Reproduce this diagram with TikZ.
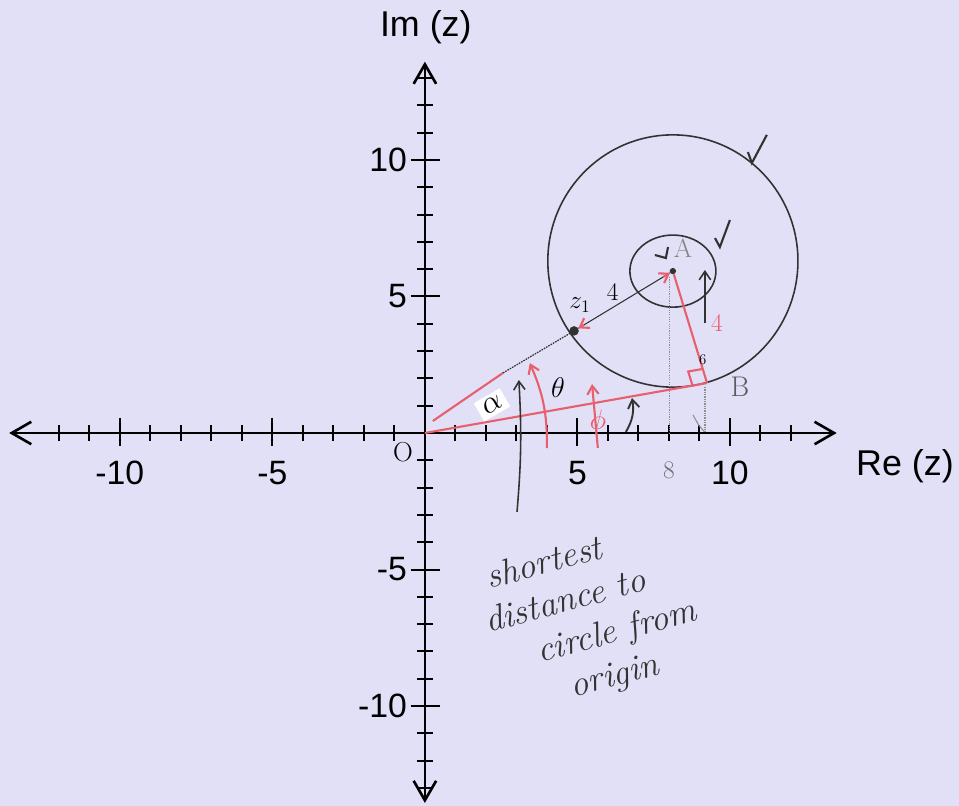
\RequirePackage{fix-cm}
\documentclass[tikz,border=0pt]{standalone}
\usepackage{fontspec}
\newfontfamily\axfont{Liberation Sans}
\usetikzlibrary{arrows.meta,calc,positioning}
\definecolor{paper}{RGB}{226,224,246}
\definecolor{pen}{RGB}{230,96,110}
\definecolor{pencil}{RGB}{50,50,50}

\begin{document}
\begin{tikzpicture}[x=1.0167cm,y=0.91cm,
  ax/.style={line width=2.5pt},
  tk/.style={line width=1.9pt},
  hand/.style={pencil, line width=1.5pt},
  redpen/.style={pen, line width=2pt},
  lab/.style={font=\axfont\fontsize{32}{34}\selectfont, inner sep=0pt},
  hw/.style={font=\fontsize{24}{26}\selectfont, inner sep=1pt},
  note/.style={font=\itshape\fontsize{34}{40}\selectfont, rotate=15, inner sep=0pt, pencil, align=center},
  dot/.style={circle, fill=pencil, inner sep=0pt, minimum size=#1},
  barb/.style={-{Straight Barb[length=2.8mm,width=3.8mm]}}]
\fill[paper] (-13.93,-13.66) rectangle (17.51,15.86);
\useasboundingbox (-13.93,-13.66) rectangle (17.51,15.86);
% axes
\coordinate (xl) at (-13.63,0);
\coordinate (xr) at (13.5,0);
\coordinate (yb) at (0,-13.55);
\coordinate (yt) at (0,13.6);
\draw[ax,{Straight Barb[length=6.5mm,width=7.5mm]}-{Straight Barb[length=6.5mm,width=7.5mm]}] (xl) -- (xr);
\draw[ax,{Straight Barb[length=6.5mm,width=7.5mm]}-{Straight Barb[length=6.5mm,width=7.5mm]}] (yb) -- (yt);
\foreach \i in {-12,...,-1,1,2,...,12} \draw[tk] (\i,0.28) -- (\i,-0.28);
\foreach \i in {-13,...,-1,1,2,...,13} \draw[tk] (-0.26,\i) -- (0.26,\i);
\foreach \i/\n in {-10/a,-5/b,5/c,10/d} {
  \draw[tk] (\i,0.55) -- (\i,-0.48);
  \draw[tk] (-0.47,\i) -- (0.49,\i);
  \node[lab] (xt\n) at (\i,-1.45) {\i};
  \node[lab, anchor=east] (yt\n) at (-0.58,\i) {\i};
}
\node[lab, font=\axfont\fontsize{34}{36}\selectfont] (im) at (0.03,14.87) {Im (z)};
\node[lab, font=\axfont\fontsize{34}{36}\selectfont] (re) at (15.74,-1.21) {Re (z)};
% points
\coordinate (O) at (0,0);
\coordinate (C) at (8.13,6.30);
\node[dot=6pt] (A) at (8.13,5.93) {};
\node[dot=9pt] (Z) at (4.89,3.74) {};
\coordinate (B) at (9.25,1.83);
\coordinate (R1) at (0.26,0.44);
\coordinate (R2) at (2.56,2.20);
% circles
\draw[hand] (C) ellipse [x radius=4.10, y radius=4.62];
\draw[hand] (A.center) ellipse [x radius=1.41, y radius=1.32];
% guide lines
\draw[pencil!55, densely dotted, line width=1.2pt] (8.03,5.71) -- (8.03,0);
\draw[pencil!55, densely dotted, line width=1.2pt] (9.18,1.68) -- (9.18,0);
\draw[pencil!55, line width=1pt] (8.79,0.66) -- (8.98,0.28) -- (9.16,0.05);
% red lines
\draw[redpen] (O) -- (B);
\draw[redpen] (R1) -- (R2);
\draw[hand, densely dotted, line width=1.2pt] (R2) -- (Z);
\draw[hand, line width=1pt] (Z) -- (A);
\draw[redpen, barb] ($(Z)!0.1!(A)$) -- (Z);
\draw[redpen, barb] ($(A)!0.1!(Z)$) -- (A);
\draw[redpen] (A) -- (B);
\coordinate (ba) at ($(B)!14pt!(A)$);
\coordinate (bo) at ($(B)!14pt!(O)$);
\draw[redpen] (ba) -- ($(ba)+(bo)-(B)$) -- (bo);
% angles
\draw[redpen, barb] (4.00,-0.55) to[bend right=12] (3.44,2.56);
\draw[redpen, barb] (5.67,-0.55) -- (5.48,1.79);
\draw[hand, line width=1.8pt, barb] (6.59,0.04) to[bend right=20] (6.79,1.28);
\draw[hand, line width=1.5pt, barb] (3.02,-2.89) to[bend right=4] (3.08,1.94);
\draw[hand, line width=1.5pt, barb] (9.18,4.03) -- (9.18,5.97);
% ticks
\draw[hand, line width=2pt] (10.59,10.29) -- (10.72,9.89) -- (11.21,10.92);
\draw[hand, line width=2pt] (9.51,7.14) -- (9.67,6.81) -- (10.0,7.80);
\draw[hand, line width=2pt] (7.97,6.81) -- (7.90,6.41) -- (7.54,6.52);
% labels
\node[hw] (lfour) at (6.16,5.16) {4};
\node[hw] (lz) at (5.08,4.70) {$z_1$};
\node[hw, pen] (rfour) at (9.57,4.03) {4};
\node[hw, font=\fontsize{27}{29}\selectfont, pencil!80] (lb) at (10.33,1.68) {B};
\node[hw, font=\fontsize{25}{27}\selectfont, pencil!60] (la) at (8.46,6.78) {A};
\node[hw, font=\fontsize{27}{29}\selectfont] (lth) at (4.36,1.68) {$\theta$};
\node[hw, font=\fontsize{30}{32}\selectfont, fill=white, rotate=30, minimum width=1.0cm, minimum height=0.7cm] (lal) at (2.20,1.03) {$\alpha$};
\node[hw, pen, font=\fontsize{27}{29}\selectfont] (lph) at (5.67,0.40) {$\phi$};
\node[hw, font=\fontsize{14}{16}\selectfont] (lsix) at (9.11,2.67) {6};
\node[hw, font=\fontsize{26}{28}\selectfont] (lo) at (-0.72,-0.70) {O};
\node[hw, pencil!70] (le) at (8.0,-1.36) {8};
% note
\node[note] (nt) at (4.46,-7.07) {shortest\\ \hspace*{0.7cm}distance to\\ \hspace*{3.5cm}circle from\\ \hspace*{2.58cm}origin};
\end{tikzpicture}
\end{document}
